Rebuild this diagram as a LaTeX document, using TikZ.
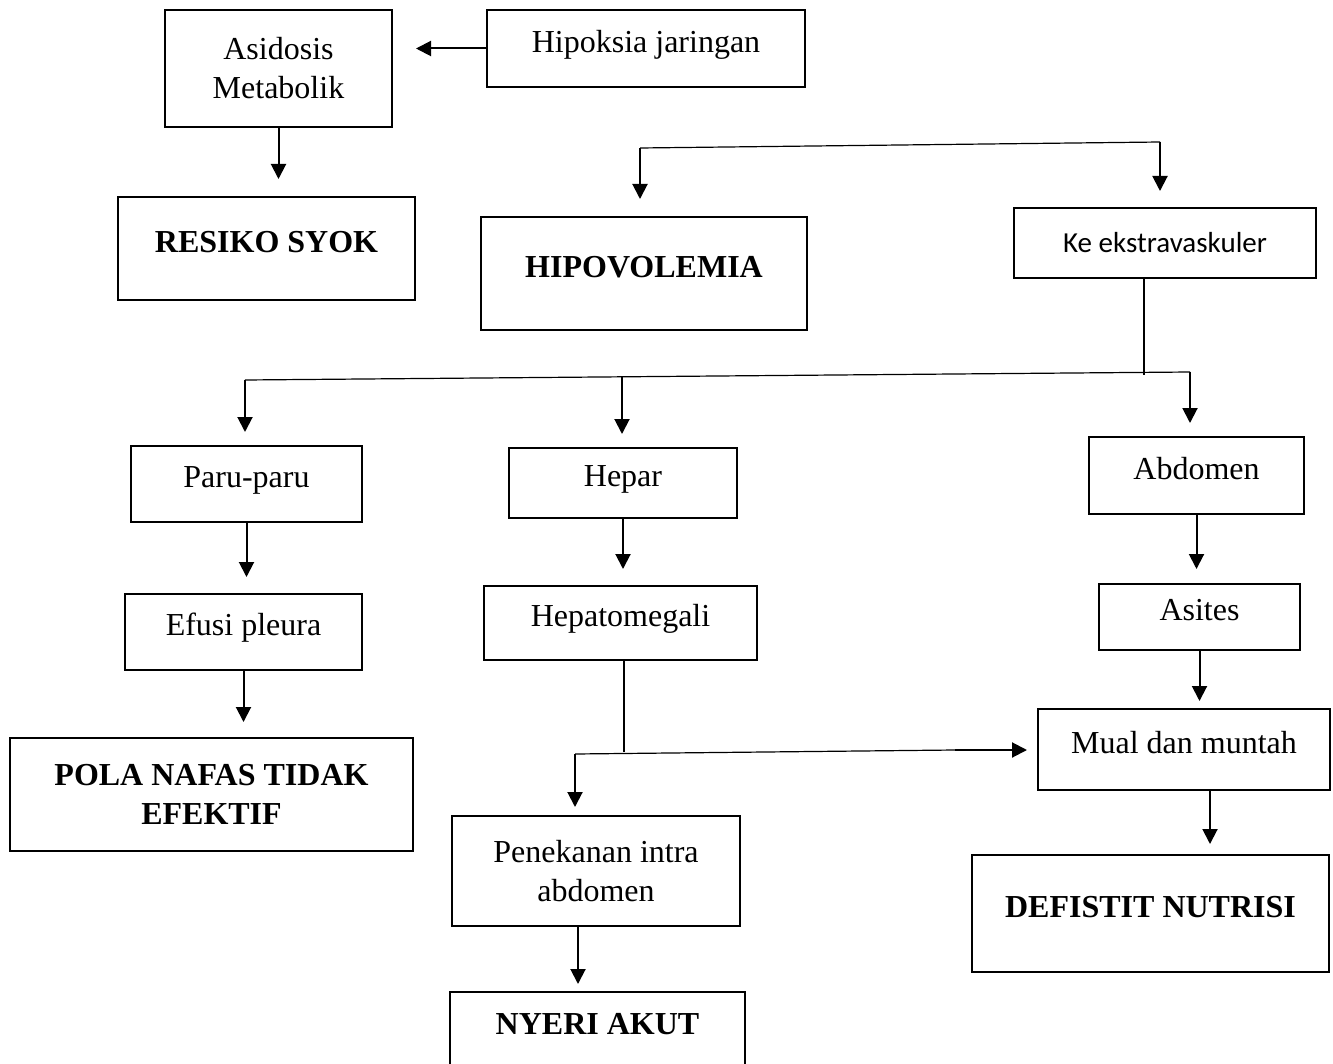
\documentclass[tikz,border=0pt]{standalone}
\usepackage{fontspec}
\setmainfont{Liberation Serif}
\newfontfamily\calibrix{Carlito}
\usetikzlibrary{arrows.meta}
\tikzset{
  ar/.style={-{Triangle[length=7.5pt,width=7.5pt]},line width=1pt},
  ln/.style={line width=0.6pt},
  box/.style={draw,line width=1pt,align=center,inner sep=2pt,font=\fontsize{16}{19.5}\selectfont},
  one/.style={text height=11pt,text depth=7.4pt},
  hd/.style={box,font=\fontsize{16}{19.5}\selectfont\bfseries}
}

\begin{document}
\begin{tikzpicture}[x=0.5pt,y=-0.5pt]
\useasboundingbox (0,0) rectangle (1333,1064);
\node[box,minimum width=113.5pt,minimum height=58.5pt] (asi) at (278.5,68.5) {Asidosis\\Metabolik};
\node[box,one,minimum width=159pt,minimum height=38.5pt] (hip) at (646,48.5) {Hipoksia jaringan};
\node[hd,one,minimum width=148.5pt,minimum height=51.5pt] (res) at (266.5,248.5) {RESIKO SYOK};
\node[hd,one,minimum width=163pt,minimum height=56.5pt] (hipo) at (644,273.5) {HIPOVOLEMIA};
\node[box,minimum width=151pt,minimum height=35pt,font=\calibrix\fontsize{14.5}{17}\selectfont] (ke) at (1165,243) {Ke ekstravaskuler};
\node[box,one,minimum width=115.5pt,minimum height=38pt] (paru) at (246.5,484) {Paru-paru};
\node[box,one,minimum width=114pt,minimum height=35pt] (hepar) at (623,483) {Hepar};
\node[box,one,minimum width=107.5pt,minimum height=38.5pt] (abd) at (1196.5,475.5) {Abdomen};
\node[box,one,minimum width=118.5pt,minimum height=38pt] (efusi) at (243.5,632) {Efusi pleura};
\node[box,one,minimum width=136.5pt,minimum height=37pt] (hepato) at (620.5,623) {Hepatomegali};
\node[box,one,minimum width=100.5pt,minimum height=33pt] (asites) at (1199.5,617) {Asites};
\node[hd,minimum width=201.5pt,minimum height=56.5pt] (pola) at (211.5,794.5) {POLA NAFAS TIDAK\\EFEKTIF};
\node[box,one,minimum width=146pt,minimum height=40.5pt] (mual) at (1184,749.5) {Mual dan muntah};
\node[box,minimum width=144pt,minimum height=55pt] (pen) at (596,871) {Penekanan intra\\abdomen};
\node[hd,one,minimum width=147.5pt,minimum height=39pt] (nyeri) at (597.5,1031) {NYERI AKUT};
\node[hd,one,minimum width=178.5pt,minimum height=58.5pt] (def) at (1150.5,913.5) {DEFISTIT NUTRISI};
\coordinate (t1) at (640,148);
\coordinate (t2) at (1160,142);
\coordinate (k1) at (1144,375);
\coordinate (b1) at (245,380);
\coordinate (b2) at (622,377);
\coordinate (b3) at (1190,372);
\coordinate (h1) at (624,752);
\coordinate (h2) at (575,754);
\coordinate (h3) at (955,750);
\draw[ar,shorten >=11.5pt] (hip.west) -- (asi.east |- hip.west);
\draw[ar,shorten >=8.5pt] (asi.south) -- (asi.south |- res.north);
\draw[ln] (t1) -- (t2);
\draw[ar,shorten >=8.5pt] (t1) -- (t1 |- hipo.north);
\draw[ar,shorten >=8pt] (t2) -- (t2 |- ke.north);
\draw[ln] (ke.south -| k1) -- (k1);
\draw[ln] (b1) -- (b3);
\draw[ar,shorten >=6.5pt] (b1) -- (b1 |- paru.north);
\draw[ar,shorten >=6.5pt] (b2) -- (b2 |- hepar.north);
\draw[ar,shorten >=6.5pt] (b3) -- (b3 |- abd.north);
\draw[ar,shorten >=8pt] (paru.south) -- (paru.south |- efusi.north);
\draw[ar,shorten >=8pt] (hepar.south) -- (hepar.south |- hepato.north);
\draw[ar,shorten >=7pt] (abd.south) -- (abd.south |- asites.north);
\draw[ar,shorten >=7.5pt] (efusi.south) -- (efusi.south |- pola.north);
\draw[ar,shorten >=3.5pt] (asites.south) -- (asites.south |- mual.north);
\draw[ln] (hepato.south -| h1) -- (h1);
\draw[ln] (h2) -- (h3);
\draw[ar,shorten >=5pt] (h3) -- (h3 -| mual.west);
\draw[ar,shorten >=4pt] (h2) -- (h2 |- pen.north);
\draw[ar,shorten >=3.5pt] ([xshift=-9pt]pen.south) -- ([xshift=-9pt]pen.south |- nyeri.north);
\draw[ar,shorten >=5pt] ([xshift=13pt]mual.south) -- ([xshift=13pt]mual.south |- def.north);
\end{tikzpicture}
\end{document}
